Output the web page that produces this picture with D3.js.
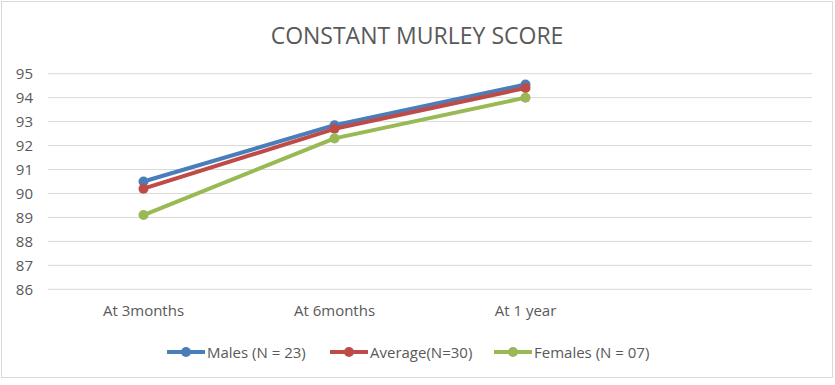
<!DOCTYPE html>
<html>
<head>
<meta charset="utf-8">
<script src="https://cdn.jsdelivr.net/npm/d3@7"></script>
<style>
  body { margin: 0; background: #fff; }
  text { font-family: "Open Sans", sans-serif; fill: #595959; }
</style>
</head>
<body>
<div id="chart"></div>
<script>
// Chart data
const categories = ['At 3months', 'At 6months', 'At 1 year', ''];
const seriesNames = ['Males (N = 23)', 'Average(N=30)', 'Females (N = 07)'];
const males = [90.5, 92.85, 94.55];
const average = [90.2, 92.7, 94.4];
const females = [89.1, 92.3, 94.0];
const yTicks = [86, 87, 88, 89, 90, 91, 92, 93, 94, 95];
const colors = ['#4a7ebb', '#be4b48', '#98b954'];

const W = 835, H = 385;
const margin = {top: 73.7, right: 23, bottom: 95.7, left: 48};
const width = W - margin.left - margin.right;
const height = H - margin.top - margin.bottom;

const svg = d3.select('#chart')
  .append('svg')
    .attr('width', W)
    .attr('height', H);

// Outer border
svg.append('rect')
  .attr('x', 1.5).attr('y', 1.5)
  .attr('width', W - 4).attr('height', H - 9)
  .attr('fill', 'none')
  .attr('stroke', '#d9d9d9')
  .attr('stroke-width', 1);

// Title
svg.append('text')
  .attr('x', 417)
  .attr('y', 44)
  .attr('text-anchor', 'middle')
  .style('font-size', '23px')
  .text('CONSTANT MURLEY SCORE');

const g = svg.append('g')
  .attr('transform', 'translate(' + margin.left + ',' + margin.top + ')');

const x = d3.scaleBand()
  .domain(categories)
  .range([0, width]);

const y = d3.scaleLinear()
  .domain([86, 95])
  .range([height, 0]);

// Gridlines
g.append('g')
  .selectAll('line')
  .data(yTicks)
  .enter()
  .append('line')
    .attr('x1', 0)
    .attr('x2', width)
    .attr('y1', d => y(d))
    .attr('y2', d => y(d))
    .attr('stroke', '#d9d9d9')
    .attr('stroke-width', 1);

// Y axis labels
const yAxis = g.append('g')
  .call(d3.axisLeft(y).tickValues(yTicks).tickSize(0).tickPadding(15));
yAxis.select('.domain').remove();
yAxis.selectAll('text')
  .style('font-size', '15px')
  .style('font-family', '"Open Sans", sans-serif')
  .style('fill', '#595959');

// X axis labels
const xAxis = g.append('g')
  .attr('transform', 'translate(0,' + height + ')')
  .call(d3.axisBottom(x).tickSize(0).tickPadding(16));
xAxis.select('.domain').remove();
xAxis.selectAll('text')
  .style('font-size', '15px')
  .style('font-family', '"Open Sans", sans-serif')
  .style('fill', '#595959');

// Lines and markers
const allSeries = [males, average, females];
const line = d3.line()
  .x((d, i) => x(categories[i]) + x.bandwidth() / 2)
  .y(d => y(d));

allSeries.forEach((values, s) => {
  g.append('path')
    .datum(values)
    .attr('d', line)
    .attr('fill', 'none')
    .attr('stroke', colors[s])
    .attr('stroke-width', 4)
    .attr('stroke-linejoin', 'round')
    .attr('stroke-linecap', 'round');

  g.append('g')
    .selectAll('circle')
    .data(values)
    .enter()
    .append('circle')
      .attr('cx', (d, i) => x(categories[i]) + x.bandwidth() / 2)
      .attr('cy', d => y(d))
      .attr('r', 5)
      .style('fill', colors[s]);
});

// Legend
const legendX = [167, 330, 494];
const legend = svg.append('g')
  .attr('transform', 'translate(0,352)');

seriesNames.forEach((name, s) => {
  legend.append('line')
    .attr('x1', legendX[s])
    .attr('x2', legendX[s] + 38)
    .attr('y1', 0).attr('y2', 0)
    .attr('stroke', colors[s])
    .attr('stroke-width', 4);
  legend.append('circle')
    .attr('cx', legendX[s] + 19)
    .attr('cy', 0)
    .attr('r', 5)
    .style('fill', colors[s]);
  legend.append('text')
    .attr('x', legendX[s] + 40)
    .attr('y', 5.5)
    .style('font-size', '15px')
    .text(name);
});
</script>
</body>
</html>
